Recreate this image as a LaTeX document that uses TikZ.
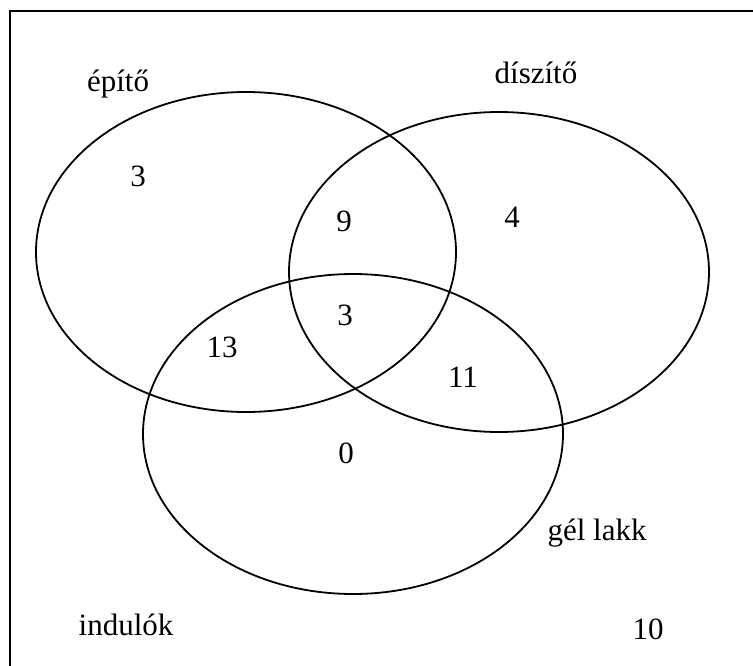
\documentclass[tikz,border=0pt]{standalone}
\usepackage{fontspec}
\setmainfont{Liberation Serif}
\tikzset{
  set/.style={draw=black, line width=1.8pt, ellipse, minimum width=420pt, minimum height=320pt, inner sep=0pt},
  lbl/.style={font=\fontsize{31}{36}\selectfont, inner sep=0pt, anchor=center},
}
\usetikzlibrary{shapes.geometric}
\begin{document}
\begin{tikzpicture}[x=1pt,y=-1pt]
\useasboundingbox (0,0) rectangle (753,665);
\clip (0,0) rectangle (753,665);
\draw[line width=2pt] (9.5,700) -- (9.5,10.5) -- (800,10.5);
\node[set] (A) at (246,252) {};
\node[set] (B) at (499,272) {};
\node[set] (C) at (353,434) {};
\node[lbl] (la) at (118,84) {építő};
\node[lbl] (lb) at (536,73) {díszítő};
\node[lbl] (lc) at (597,533) {gél lakk};
\node[lbl] (lu) at (126,625) {indulók};
\node[lbl] (nA) at (138,176) {3};
\node[lbl] (nAB) at (344,221) {9};
\node[lbl] (nB) at (512,217) {4};
\node[lbl] (nABC) at (345,315) {3};
\node[lbl] (nAC) at (222,347) {13};
\node[lbl] (nBC) at (463,377) {11};
\node[lbl] (nC) at (346,453) {0};
\node[lbl] (nU) at (648,629) {10};
\end{tikzpicture}
\end{document}
